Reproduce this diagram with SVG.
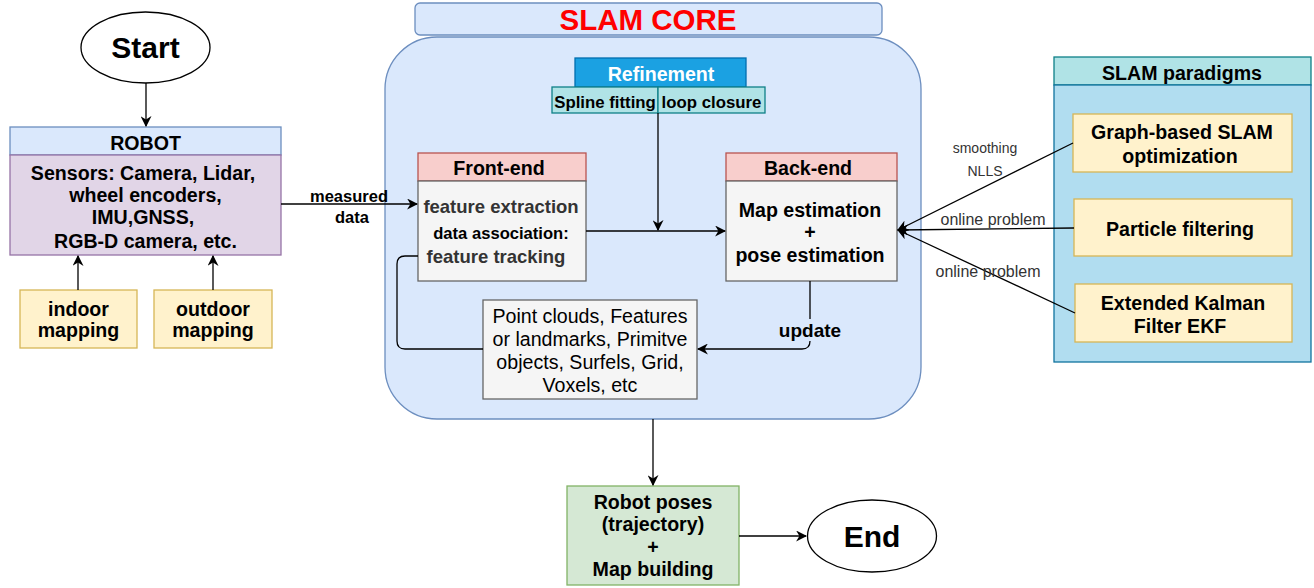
<svg xmlns="http://www.w3.org/2000/svg" width="1314" height="588" viewBox="0 0 1314 588">
<defs>
<marker id="ah" viewBox="0 0 10 10" refX="9" refY="5" markerWidth="11" markerHeight="11" markerUnits="userSpaceOnUse" orient="auto">
<path d="M0,0 L10,5 L0,10 L3,5 Z" fill="#000"/>
</marker>
</defs>
<style>
text{font-family:"Liberation Sans",Arial,sans-serif;text-anchor:middle;fill:#000}
.b{font-weight:bold}
.f{font-size:19.6px}
.c{fill:none;stroke:#000;stroke-width:1.3}
.bl{fill:#dae8fc;stroke:#6c8ebf;stroke-width:1.3}
.yl{fill:#fff2cc;stroke:#d6b656;stroke-width:1.3}
.rd{fill:#f8cecc;stroke:#b85450;stroke-width:1.3}
.gy{fill:#f5f5f5;stroke:#666;stroke-width:1.3}
.tl{fill:#b0e3e6;stroke:#0e8088;stroke-width:1.3}
.lb{fill:#333}
</style>
<rect width="1314" height="588" fill="#fff"/>

<g id="slamcore">
<rect class="bl" x="415" y="3" width="467" height="32" rx="5"/>
<text x="648" y="30" class="b" style="font-size:29.5px;fill:#ff0000">SLAM CORE</text>
<rect class="bl" x="385" y="37" width="536" height="382" rx="52"/>
</g>

<g id="start">
<ellipse cx="145.5" cy="47.5" rx="64.5" ry="35.5" fill="#fff" stroke="#000" stroke-width="1.3"/>
<text x="145.5" y="58" class="b" style="font-size:30px">Start</text>
</g>

<g id="robot">
<rect class="bl" x="10" y="127" width="271" height="28"/>
<rect x="10" y="155" width="271" height="100" fill="#e1d5e7" stroke="#9673a6" stroke-width="1.3"/>
<text x="145.5" y="150" class="b f">ROBOT</text>
<g class="b f">
<text x="143" y="180">Sensors: Camera, Lidar,</text>
<text x="145.5" y="202">wheel encoders,</text>
<text x="143" y="224">IMU,GNSS,</text>
<text x="145.5" y="248">RGB-D camera, etc.</text>
</g>
</g>

<g id="indoor">
<rect class="yl" x="20" y="290" width="117" height="58"/>
<text x="78.5" y="316" class="b f">indoor</text>
<text x="78.5" y="337" class="b f">mapping</text>
</g>
<g id="outdoor">
<rect class="yl" x="154" y="290" width="118" height="58"/>
<text x="213" y="316" class="b f">outdoor</text>
<text x="213" y="337" class="b f">mapping</text>
</g>

<g id="refinement">
<rect x="575" y="58" width="171" height="29" fill="#1ba1e2" stroke="#006eaf" stroke-width="1.3"/>
<text x="661" y="81" class="b f" style="fill:#fff">Refinement</text>
</g>
<g id="spline">
<rect class="tl" x="552" y="87" width="106" height="26"/>
<text x="605" y="108" class="b" style="font-size:16.8px">Spline fitting</text>
</g>
<g id="loop">
<rect class="tl" x="658" y="87" width="107" height="26"/>
<text x="711.5" y="108" class="b" style="font-size:16.8px">loop closure</text>
</g>

<g id="frontend">
<rect class="rd" x="418" y="153" width="168" height="28"/>
<rect class="gy" x="418" y="181" width="168" height="100"/>
<text x="499" y="175" class="b f">Front-end</text>
<text x="501" y="213" class="b" style="font-size:18.5px;fill:#333">feature extraction</text>
<text x="501" y="239" class="b" style="font-size:16.6px">data association:</text>
<text x="496" y="263" class="b" style="font-size:18.5px;fill:#333">feature tracking</text>
</g>

<g id="backend">
<rect class="rd" x="726" y="153" width="171" height="28"/>
<rect class="gy" x="726" y="181" width="171" height="100"/>
<text x="808" y="175" class="b f">Back-end</text>
<g class="b f" style="fill:#333">
<text x="810" y="217">Map estimation</text>
<text x="810" y="239">+</text>
<text x="810" y="262">pose estimation</text>
</g>
</g>

<g id="mapdata">
<rect class="gy" x="483" y="300" width="214" height="99"/>
<g class="f" style="fill:#333">
<text x="590" y="323">Point clouds, Features</text>
<text x="590" y="346">or landmarks, Primitve</text>
<text x="590" y="369">objects, Surfels, Grid,</text>
<text x="590" y="392">Voxels, etc</text>
</g>
</g>

<g id="paradigms">
<rect class="tl" x="1054" y="57" width="257" height="28"/>
<rect x="1054" y="85" width="257" height="277" fill="#b1ddf0" stroke="#10739e" stroke-width="1.3"/>
<text x="1182" y="80" class="b f">SLAM paradigms</text>
</g>
<g id="graph">
<rect class="yl" x="1073" y="114" width="219" height="58"/>
<text x="1182" y="139" class="b f">Graph-based SLAM</text>
<text x="1180" y="163" class="b f">optimization</text>
</g>
<g id="particle">
<rect class="yl" x="1074" y="199" width="218" height="57"/>
<text x="1180" y="236" class="b f">Particle filtering</text>
</g>
<g id="ekf">
<rect class="yl" x="1075" y="284" width="217" height="58"/>
<text x="1183" y="310" class="b f">Extended Kalman</text>
<text x="1180" y="333" class="b f">Filter EKF</text>
</g>

<g id="robotposes">
<rect x="567" y="486" width="172" height="99" fill="#d5e8d4" stroke="#82b366" stroke-width="1.3"/>
<g class="b f" style="fill:#222">
<text x="653" y="509">Robot poses</text>
<text x="653" y="531">(trajectory)</text>
<text x="653" y="554">+</text>
<text x="653" y="576">Map building</text>
</g>
</g>

<g id="end">
<ellipse cx="872" cy="536" rx="64.5" ry="36" fill="#fff" stroke="#000" stroke-width="1.3"/>
<text x="872" y="547" class="b" style="font-size:30px">End</text>
</g>

<g id="connectors">
<path class="c" d="M146,83 V126" marker-end="url(#ah)"/>
<path class="c" d="M78,290 V256" marker-end="url(#ah)"/>
<path class="c" d="M213,290 V256" marker-end="url(#ah)"/>
<path class="c" d="M281,204 H417" marker-end="url(#ah)"/>
<text x="349" y="202" class="b" style="font-size:16.5px">measured</text>
<text x="352" y="223" class="b" style="font-size:16.5px">data</text>
<path class="c" d="M586,231 H725" marker-end="url(#ah)"/>
<path class="c" d="M658,113 V230" marker-end="url(#ah)"/>
<path class="c" d="M810,281 V341 Q810,349 802,349 H698" marker-end="url(#ah)"/>
<rect x="777" y="319" width="65" height="22" fill="#dae8fc"/>
<text x="810" y="337" class="b" style="font-size:19px">update</text>
<path class="c" d="M418,256 H405 Q397,256 397,264 V341 Q397,349 405,349 H483"/>
<path class="c" d="M1073,143 L898,230" marker-end="url(#ah)"/>
<path class="c" d="M1074,228 L898,230" marker-end="url(#ah)"/>
<path class="c" d="M1075,313 L898,230" marker-end="url(#ah)"/>
<text x="985" y="153" class="lb" style="font-size:14px">smoothing</text>
<text x="985" y="176" class="lb" style="font-size:14px">NLLS</text>
<text x="993" y="225" class="lb" style="font-size:16px">online problem</text>
<text x="988" y="277" class="lb" style="font-size:16px">online problem</text>
<path class="c" d="M653,419 V485" marker-end="url(#ah)"/>
<path class="c" d="M739,536 H806" marker-end="url(#ah)"/>
</g>
</svg>
